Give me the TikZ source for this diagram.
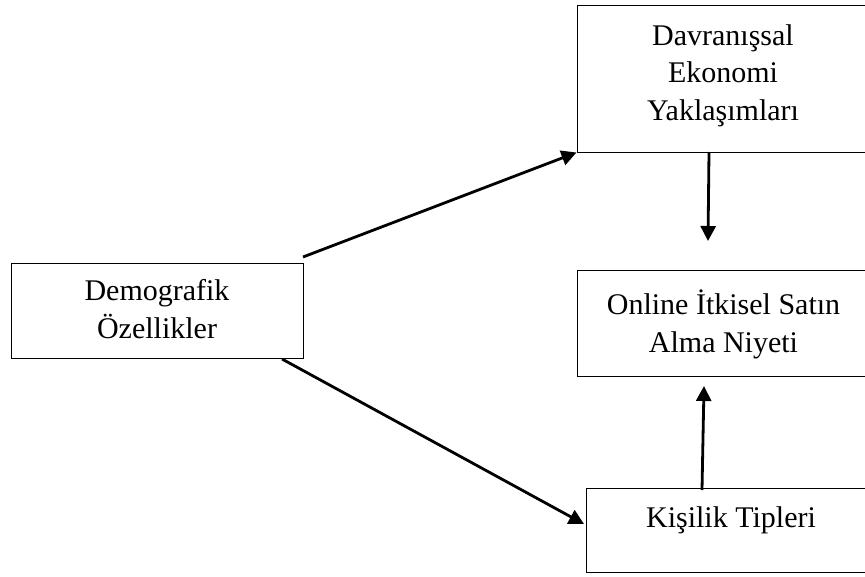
\documentclass[tikz,border=0pt]{standalone}
\usepackage{fontspec}
\setmainfont{Liberation Serif}
\usetikzlibrary{arrows.meta}
\tikzset{
  box/.style={draw=black, line width=1pt, inner sep=0pt, anchor=center},
  % anchor=base sits on the baseline of the last line
  txt/.style={align=center, inner sep=0pt, anchor=base,
    font=\fontsize{30}{37.5}\selectfont},
  link/.style={line width=2.8pt, -{Triangle[length=15pt,width=15pt]}},
}
\begin{document}
\begin{tikzpicture}[x=1pt,y=-1pt]
  \useasboundingbox (0,0) rectangle (865,576);
  \clip (0,0) rectangle (865,576);
  \fill[white] (0,0) rectangle (865,576);

  % boxes
  \node[box, minimum width=292pt, minimum height=95pt]  (demo)   at (157,310.5) {};
  \node[box, minimum width=292pt, minimum height=147pt] (davr)   at (723,78.5) {};
  \node[box, minimum width=292pt, minimum height=106pt] (online) at (723,323) {};
  \node[box, minimum width=290pt, minimum height=84pt]  (kisi)   at (731,530) {};

  % labels
  \node[txt] (demoT)   at (157,338)   {Demografik\\Özellikler};
  \node[txt] (davrT)   at (723,120)   {Davranışsal\\Ekonomi\\Yaklaşımları};
  \node[txt] (onlineT) at (723.5,352) {Online İtkisel Satın\\Alma Niyeti};
  \node[txt] (kisiT)   at (731,527)   {Kişilik Tipleri};

  % connector end points
  \coordinate (a1s) at (303,257);
  \coordinate (a1e) at (davr.south west);
  \coordinate (a2s) at (282,359);
  \coordinate (a2e) at (584,524);
  \coordinate (a3s) at (709,152);
  \coordinate (a3e) at (708,241);
  \coordinate (a4s) at (702,490);
  \coordinate (a4e) at (704,386);

  \draw[link] (a1s) -- (a1e);
  \draw[link] (a2s) -- (a2e);
  \draw[link] (a3s) -- (a3e);
  \draw[link] (a4s) -- (a4e);
\end{tikzpicture}
\end{document}
